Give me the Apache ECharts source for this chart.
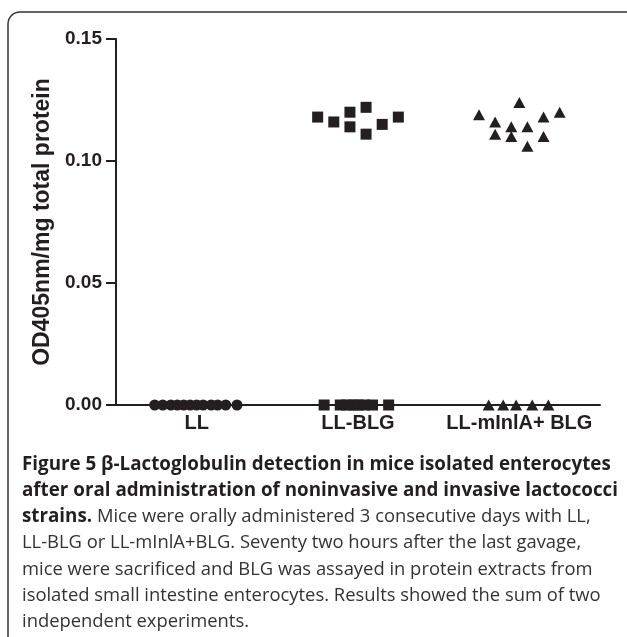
<!DOCTYPE html>
<html>
<head>
<meta charset="utf-8">
<script src="https://cdn.jsdelivr.net/npm/echarts@6/dist/echarts.min.js"></script>
<style>
  html, body { margin: 0; padding: 0; background: #fff; }
  #chart { width: 627px; height: 637px; }
</style>
</head>
<body>
<div id="chart"></div>
<script>
// groups on the x axis
const categories = ['LL', 'LL-BLG', 'LL-mInlA+ BLG'];
const yTicks = [0, 0.05, 0.1, 0.15];

// OD405nm/mg values; jitter = horizontal spread within a group
const llValues = [0, 0, 0, 0, 0, 0, 0, 0, 0, 0, 0, 0];
const llJitter = [-0.26, -0.21, -0.16, -0.12, -0.08, -0.04, 0, 0.04, 0.09, 0.13, 0.18, 0.25];

const blgValues = [0.118, 0.116, 0.120, 0.114, 0.122, 0.111, 0.115, 0.118,
                   0, 0, 0, 0, 0, 0, 0, 0];
const blgJitter = [-0.25, -0.15, -0.05, -0.05, 0.05, 0.05, 0.15, 0.25,
                   -0.21, -0.11, -0.07, -0.03, 0, 0.04, 0.09, 0.19];

const inlaValues = [0.119, 0.116, 0.111, 0.114, 0.110, 0.124, 0.114, 0.106, 0.118, 0.110, 0.120,
                    0, 0, 0, 0, 0];
const inlaJitter = [-0.25, -0.15, -0.15, -0.05, -0.05, 0, 0.05, 0.05, 0.15, 0.15, 0.25,
                    -0.19, -0.10, -0.02, 0.08, 0.18];

const captionLines = [
  ['b', 'Figure 5 β-Lactoglobulin detection in mice isolated enterocytes'],
  ['b', 'after oral administration of noninvasive and invasive lactococci'],
  ['mix', 'strains.', ' Mice were orally administered 3 consecutive days with LL,'],
  ['r', 'LL-BLG or LL-mInlA+BLG. Seventy two hours after the last gavage,'],
  ['r', 'mice were sacrificed and BLG was assayed in protein extracts from'],
  ['r', 'isolated small intestine enterocytes. Results showed the sum of two'],
  ['r', 'independent experiments.']
];

const ink = '#231f20';
const font = 'Liberation Sans, Arial, sans-serif';
const capFont = 'Open Sans, sans-serif';

function points(groupIndex, values, jitter) {
  return values.map((v, i) => [groupIndex + 0.5 + jitter[i], v]);
}

const captionText = captionLines.map(l => {
  if (l[0] === 'mix') return '{b|' + l[1] + '}{r|' + l[2] + '}';
  return '{' + l[0] + '|' + l[1] + '}';
}).join('\n');

const chart = echarts.init(document.getElementById('chart'), null, { renderer: 'canvas' });

const scatterBase = {
  type: 'scatter',
  xAxisIndex: 1,
  clip: false,
  silent: true,
  itemStyle: { color: ink, opacity: 1 }
};

chart.setOption({
  animation: false,
  backgroundColor: '#fff',
  graphic: [{
    type: 'rect',
    shape: { x: 8, y: 12, width: 680, height: 700, r: 12 },
    style: { fill: null, stroke: '#333', lineWidth: 1.5 },
    silent: true
  }],
  title: {
    left: 17,
    top: 446,
    text: captionText,
    textStyle: {
      rich: {
        b: { fontFamily: capFont, fontWeight: 'bold', fontSize: 18.8, lineHeight: 26.3, color: ink },
        r: { fontFamily: capFont, fontWeight: 'normal', fontSize: 18.4, lineHeight: 26.3, color: '#333' }
      }
    }
  },
  grid: { left: 116, right: 27, top: 39, bottom: 232 },
  xAxis: [{
    type: 'category',
    data: categories,
    boundaryGap: true,
    axisLine: { lineStyle: { color: ink, width: 2 } },
    axisTick: { show: false },
    axisLabel: { interval: 0, color: ink, fontFamily: font, fontWeight: 'bold', fontSize: 20, margin: 8 }
  }, {
    type: 'value',
    min: 0,
    max: 3,
    show: false
  }],
  yAxis: {
    type: 'value',
    min: yTicks[0],
    max: yTicks[yTicks.length - 1],
    interval: 0.05,
    name: 'OD405nm/mg total protein',
    nameLocation: 'middle',
    nameGap: 62,
    nameTextStyle: { color: ink, fontFamily: font, fontWeight: 'bold', fontSize: 23 },
    splitLine: { show: false },
    axisLine: { show: true, lineStyle: { color: ink, width: 2 } },
    axisTick: { show: true, length: 10, lineStyle: { color: ink, width: 2 } },
    axisLabel: {
      color: ink, fontFamily: font, fontWeight: 'bold', fontSize: 19, margin: 14,
      formatter: v => v.toFixed(2)
    }
  },
  series: [
    Object.assign({}, scatterBase, { name: 'LL', symbol: 'circle', symbolSize: 11, data: points(0, llValues, llJitter) }),
    Object.assign({}, scatterBase, { name: 'LL-BLG', symbol: 'rect', symbolSize: 11, data: points(1, blgValues, blgJitter) }),
    Object.assign({}, scatterBase, { name: 'LL-mInlA+ BLG', symbol: 'triangle', symbolSize: [12, 11], data: points(2, inlaValues, inlaJitter) })
  ]
});
</script>
</body>
</html>
